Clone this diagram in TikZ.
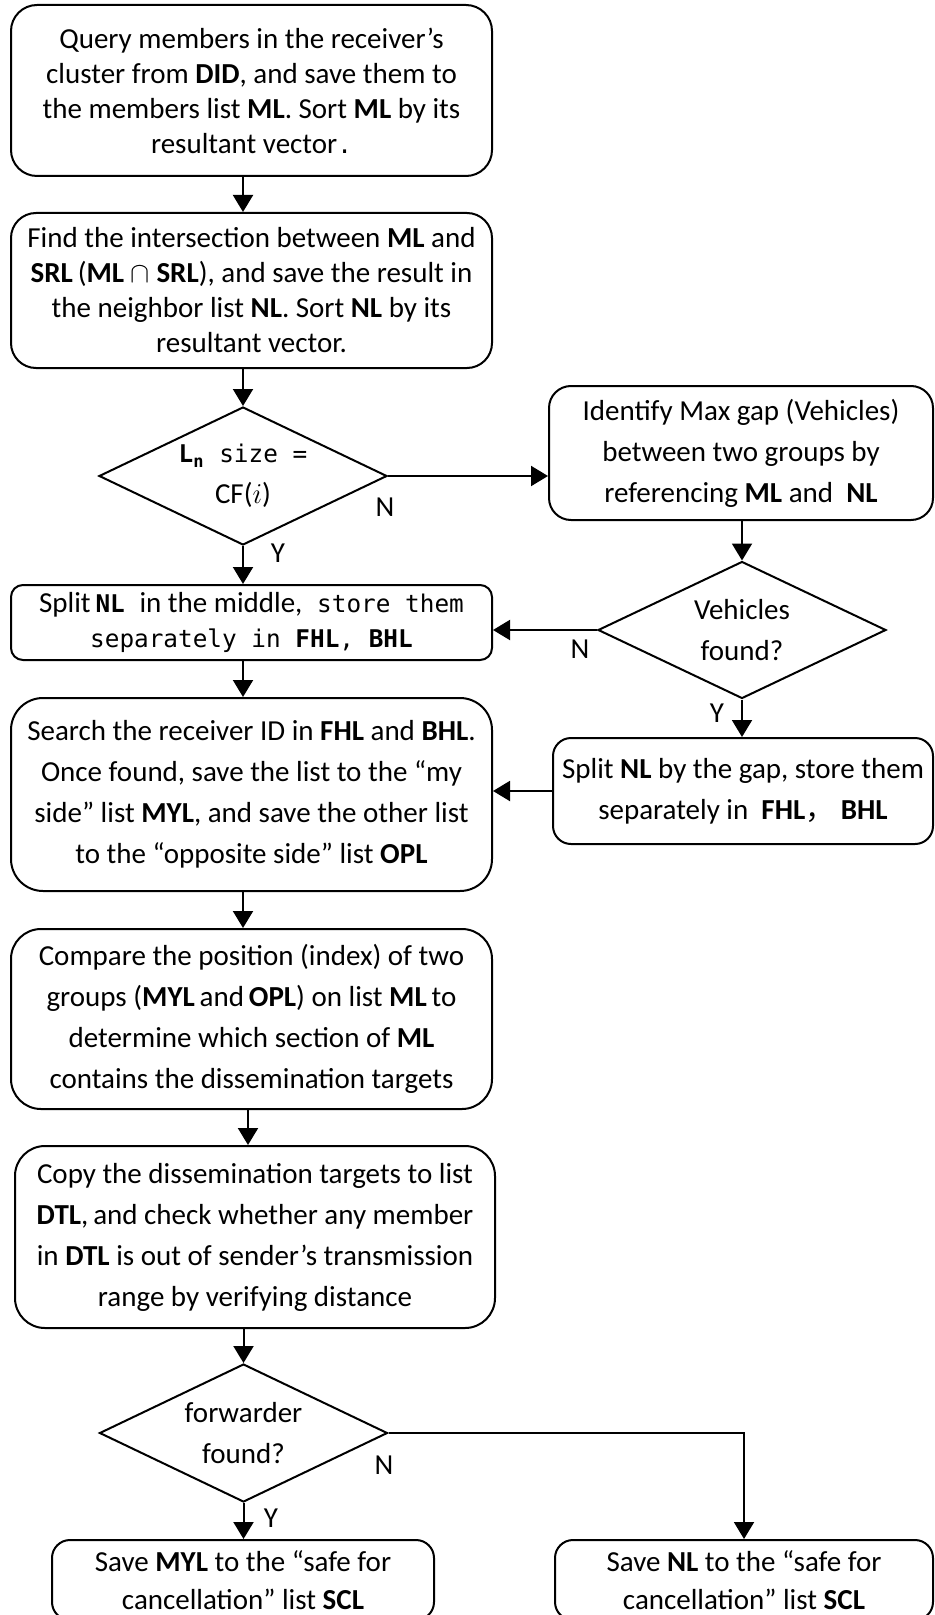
\documentclass[tikz,border=0pt]{standalone}
\usepackage{fontspec}
\setmainfont{Carlito}
\setmonofont{DejaVu Sans Mono}[Scale=0.84]
\newfontfamily\cjkfont{Noto Sans CJK SC}
\usetikzlibrary{shapes.geometric,arrows.meta}

\tikzset{
  box/.style={draw, line width=1pt, align=center, inner sep=0pt},
  tight/.style={font=\fontsize{14.5}{17.5}\selectfont},
  cond/.style={draw, diamond, aspect=2, line width=1pt, align=center, inner sep=0pt,
    minimum width=144pt, minimum height=69pt},
  flow/.style={-{Triangle[length=8.5pt,width=10pt]}, line width=1pt},
  yn/.style={inner sep=0pt}
}

\begin{document}
\begin{tikzpicture}[x=0.5pt,y=-0.5pt,font=\fontsize{14.5}{20.5}\selectfont]
  \useasboundingbox (0,0) rectangle (935,1615);

  % main column
  \node[box,tight,minimum width=240.5pt,minimum height=85.5pt,rounded corners=13pt] (query) at (251.5,90.5)
    {Query members in the receiver’s\\cluster from \textbf{DID}, and save them to\\the members list \textbf{ML}. Sort \textbf{ML} by its\\resultant vector\texttt{.}};
  \node[box,tight,minimum width=240.5pt,minimum height=77.5pt,rounded corners=12.5pt] (inter) at (251.5,290.5)
    {Find the intersection between \textbf{ML} and\\\textbf{SRL}\,(\textbf{ML} $\cap$ \textbf{SRL}), and save the result in\\the neighbor list \textbf{NL}. Sort \textbf{NL} by its\\resultant vector.};
  \node[cond] (size) at (243,476)
    {\texttt{\textbf{L}\textsubscript{\textbf{n}} size =}\\CF($i$)};
  \node[box,tight,minimum width=240.5pt,minimum height=37.5pt,rounded corners=6pt] (split) at (251.5,622.5)
    {Split\,\texttt{\textbf{NL} }in the middle,\texttt{ store them}\\\texttt{separately in \textbf{FHL}, \textbf{BHL}}};
  \node[box,minimum width=240.5pt,minimum height=96.5pt,rounded corners=16pt] (search) at (251.5,794.5)
    {Search the receiver ID in \textbf{FHL} and \textbf{BHL}.\\Once found, save the list to the “my\\side” list \textbf{MYL}, and save the other list\\to the “opposite side” list \textbf{OPL}};
  \node[box,minimum width=240.5pt,minimum height=90pt,rounded corners=15pt] (compare) at (251.5,1019)
    {Compare the position (index) of two\\groups (\textbf{MYL}\,and\,\textbf{OPL}) on list \textbf{ML}\,to\\determine which section of \textbf{ML}\\contains the dissemination targets};
  \node[box,minimum width=240pt,minimum height=91pt,rounded corners=15pt] (copy) at (255,1237)
    {Copy the dissemination targets to list\\\textbf{DTL},\,and check whether any member\\in \textbf{DTL} is out of sender’s transmission\\range by verifying distance};
  \node[cond] (fwd) at (243.5,1433) {forwarder\\found?};
  \node[box,font=\fontsize{14.5}{19}\selectfont,minimum width=191pt,minimum height=40pt,rounded corners=9pt] (savemyl) at (243,1580)
    {Save \textbf{MYL} to the “safe for\\cancellation” list \textbf{SCL}};

  % right column
  \node[box,minimum width=192pt,minimum height=67pt,rounded corners=11pt] (ident) at (741,453)
    {Identify Max gap (Vehicles)\\between two groups by\\referencing \textbf{ML} and \ \textbf{NL}};
  \node[cond,minimum height=68.5pt] (found) at (742,630) {Vehicles\\found?};
  \node[box,minimum width=190pt,minimum height=53pt,rounded corners=9pt] (gap) at (743,791)
    {Split \textbf{NL} by the gap, store them\\separately in \ \textbf{FHL}{\cjkfont ，}\ \textbf{BHL}};
  \node[box,font=\fontsize{14.5}{19}\selectfont,minimum width=189pt,minimum height=40pt,rounded corners=9pt] (savenl) at (744,1580)
    {Save \textbf{NL} to the “safe for\\cancellation” list \textbf{SCL}};

  % branch labels
  \node[yn] (n1) at (385,507) {N};
  \node[yn] (y1) at (278,553) {Y};
  \node[yn] (n2) at (580,649) {N};
  \node[yn] (y2) at (717,713) {Y};
  \node[yn] (n3) at (384,1465) {N};
  \node[yn] (y3) at (271,1518) {Y};

  % connectors
  \draw[flow] (query.south -| size.north) -- (inter.north -| size.north);
  \draw[flow] (inter.south -| size.north) -- (size.north);
  \draw[flow] (size.east) -- (size.east -| ident.west);
  \draw[flow] (ident.south -| found.north) -- (found.north);
  \draw[flow] (found.west) -- (found.west -| split.east);
  \draw[flow] (size.south) -- (size.south |- split.north);
  \draw[flow] (found.south) -- (found.south |- gap.north);
  \draw[flow] (gap.west) -- (gap.west -| search.east);
  \draw[flow] (split.south -| size.south) -- (search.north -| size.south);
  \draw[flow] (search.south -| size.south) -- (compare.north -| size.south);
  \draw[flow] (compare.south -| copy.north) ++(-7,0) coordinate (c1) -- (c1 |- copy.north);
  \draw[flow] (copy.south -| fwd.north) -- (fwd.north);
  \draw[flow] (fwd.south) -- (fwd.south |- savemyl.north);
  \draw[flow] (fwd.east) -| (savenl.north);
\end{tikzpicture}
\end{document}
